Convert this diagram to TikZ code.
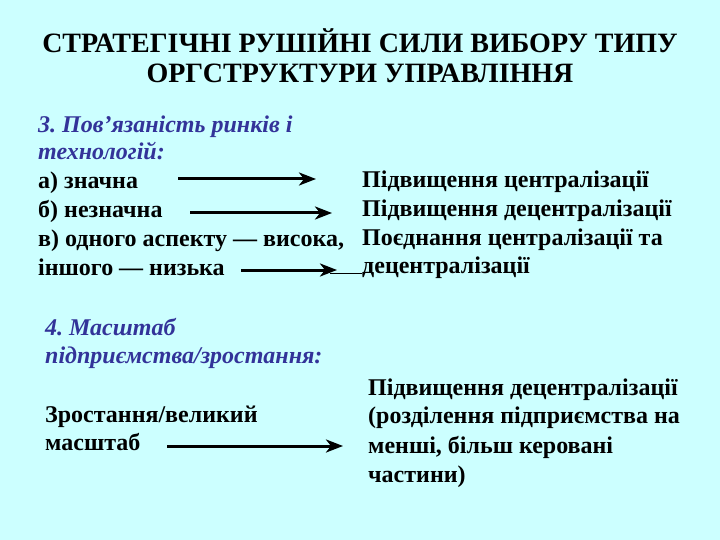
\documentclass[tikz,border=0pt]{standalone}
\usepackage{fontspec}
\setmainfont{Liberation Serif}
\usetikzlibrary{arrows.meta}
\definecolor{bgcyan}{RGB}{204,255,255}
\definecolor{itemblue}{RGB}{51,51,153}
\frenchspacing

\begin{document}
\begin{tikzpicture}[x=1pt,y=-1pt,
	txt/.style={anchor=base west,inner sep=0pt,font=\fontsize{24}{28}\selectfont\bfseries},
	hd/.style={txt,text=itemblue,font=\fontsize{24}{28}\selectfont\bfseries\itshape},
	ttl/.style={anchor=base,inner sep=0pt,font=\fontsize{28}{32}\selectfont\bfseries},
	arr/.style={line width=3pt,-{Stealth[length=17pt,width=13pt,inset=5pt]}}]
	\fill[bgcyan] (0,0) rectangle (720,540);
	\useasboundingbox (0,0) rectangle (720,540);
	% title
	\node[ttl] (title1) at (360,53) {СТРАТЕГІЧНІ РУШІЙНІ СИЛИ ВИБОРУ ТИПУ};
	\node[ttl] (title2) at (360,83) {ОРГСТРУКТУРИ УПРАВЛІННЯ};
	% 3. markets and technologies
	\node[hd] (hdA) at (38,133) {3. Пов’язаність ринків і};
	\node[hd] (hdB) at (38,160) {технологій:};
	\node[txt] (la) at (38,189) {а) значна};
	\node[txt] (lb) at (38,218) {б) незначна};
	\node[txt] (lc) at (38,247) {в) одного аспекту — висока,};
	\node[txt] (ld) at (38,275) {іншого — низька};
	\node[txt] (ra) at (362,188) {Підвищення централізації};
	\node[txt] (rb) at (362,217) {Підвищення децентралізації};
	\node[txt] (rc) at (362,245) {Поєднання централізації та};
	\node[txt] (rd) at (362,273) {децентралізації};
	\coordinate (aS) at (178,179); \coordinate (aE) at (316,179);
	\coordinate (bS) at (190,213); \coordinate (bE) at (332,213);
	\coordinate (cS) at (241,270); \coordinate (cE) at (337,270);
	\draw[arr] (aS)--(aE);
	\draw[arr] (bS)--(bE);
	\draw[arr] (cS)--(cE);
	\draw[line width=0.8pt] (330,273)--(rd.base west|-0,273);
	% 4. scale of the firm
	\node[hd] (hdC) at (45,335) {4. Масштаб};
	\node[hd] (hdD) at (45,363) {підприємства/зростання:};
	\node[txt] (lg1) at (45,422) {Зростання/великий};
	\node[txt] (lg2) at (45,450) {масштаб};
	\node[txt] (rg1) at (368,395) {Підвищення децентралізації};
	\node[txt] (rg2) at (368,423) {(розділення підприємства на};
	\node[txt] (rg3) at (368,453) {менші, більш керовані};
	\node[txt] (rg4) at (368,482) {частини)};
	\coordinate (dS) at (167,446); \coordinate (dE) at (343,446);
	\draw[arr] (dS)--(dE);
\end{tikzpicture}
\end{document}
